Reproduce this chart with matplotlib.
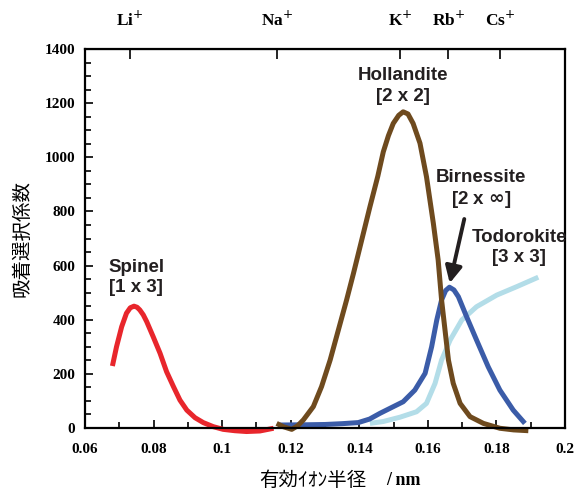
import numpy as np
import matplotlib
matplotlib.use('Agg')
import matplotlib.pyplot as plt
from matplotlib.ticker import MultipleLocator

# ===== data =====
spinel_x = [0.0680, 0.0692, 0.0707, 0.0721, 0.0732, 0.0743, 0.0752, 0.0760, 0.0770, 0.0780,
            0.0799, 0.0819, 0.0838, 0.0858, 0.0877, 0.0897, 0.0921, 0.0945, 0.0974, 0.1003,
            0.1037, 0.1071, 0.1110, 0.1150]
spinel_y = [229, 300, 374, 424, 444, 450, 446, 436, 418, 393,
            337, 276, 208, 153, 103, 66, 38, 20, 5, -5,
            -10, -13, -11, -1]

holl_x = [0.1159, 0.1178, 0.1203, 0.1220, 0.1237, 0.1266, 0.1290, 0.1315, 0.1339, 0.1363,
          0.1383, 0.1407, 0.1431, 0.1454, 0.1470, 0.1485, 0.1499, 0.1515, 0.1528,
          0.1542, 0.1557, 0.1577, 0.1596, 0.1616, 0.1630, 0.1640, 0.1660, 0.1674, 0.1694,
          0.1723, 0.1762, 0.1810, 0.1850, 0.1893]
holl_y = [17, 5, -5, 8, 30, 79, 153, 251, 362, 473,
          571, 694, 817, 930, 1020, 1080, 1125, 1155, 1168,
          1160, 1125, 1052, 928, 756, 621, 473, 251, 165, 91,
          42, 17, -1, -7, -10]

birn_x = [0.1169, 0.1250, 0.1300, 0.1350, 0.1397, 0.1430, 0.1460, 0.1490, 0.1528, 0.1562,
          0.1592, 0.1611, 0.1626, 0.1640, 0.1652, 0.1663, 0.1676, 0.1689, 0.1713, 0.1742,
          0.1776, 0.1810, 0.1849, 0.1883]
birn_y = [11, 12, 13, 16, 20, 33, 54, 73, 97, 140,
          202, 300, 399, 473, 508, 520, 510, 485, 411, 325,
          226, 140, 66, 17]

todo_x = [0.1431, 0.1470, 0.1519, 0.1567, 0.1596, 0.1621, 0.1640, 0.1665, 0.1699, 0.1742,
          0.1801, 0.1859, 0.1922]
todo_y = [17, 24, 40, 60, 91, 165, 251, 325, 399, 448,
          491, 522, 557]

ion_names = ['Li$^{+}$', 'Na$^{+}$', 'K$^{+}$', 'Rb$^{+}$', 'Cs$^{+}$']
ion_radii = [0.073, 0.116, 0.152, 0.166, 0.181]

SERIF = 'Liberation Serif'
SANS = 'Liberation Sans'
CJK = 'Noto Sans CJK JP'
TXT = '#231F20'

fig = plt.figure(figsize=(5.84, 4.94), dpi=100)
ax = fig.add_axes([0.1455, 0.1336, 0.822, 0.7672])

lkw = dict(lw=3.6, solid_joinstyle='round', solid_capstyle='butt', clip_on=False)
ax.plot(todo_x, todo_y, color='#B3DDE8', **lkw)
ax.plot(birn_x, birn_y, color='#3B5CA8', **lkw)
ax.plot(holl_x, holl_y, color='#6E4A1E', **lkw)
ax.plot(spinel_x, spinel_y, color='#E8262C', **lkw)

ax.set_xlim(0.06, 0.2)
ax.set_ylim(0, 1400)
ax.xaxis.set_major_locator(MultipleLocator(0.02))
ax.xaxis.set_minor_locator(MultipleLocator(0.01))
ax.yaxis.set_major_locator(MultipleLocator(200))
ax.yaxis.set_minor_locator(MultipleLocator(50))
ax.tick_params(which='both', direction='in', top=False, right=False, width=1.2)
ax.tick_params(which='major', length=6)
ax.tick_params(which='minor', length=4)
ax.tick_params(axis='x', pad=11)
ax.tick_params(axis='y', pad=7)
for s in ax.spines.values():
    s.set_linewidth(1.6)

xt = [0.06, 0.08, 0.1, 0.12, 0.14, 0.16, 0.18, 0.2]
ax.set_xticks(xt)
ax.set_xticklabels([('%g' % v) for v in xt])
for lab in ax.get_xticklabels() + ax.get_yticklabels():
    lab.set_fontfamily(SERIF)
    lab.set_fontweight('bold')
    lab.set_fontsize(11)

# ion positions on top axis
top = ax.secondary_xaxis('top')
top.set_xticks(ion_radii)
top.set_xticklabels(ion_names)
top.tick_params(direction='in', length=7, width=1.2, pad=14)
for lab in top.get_xticklabels():
    lab.set_fontfamily(SERIF)
    lab.set_fontweight('bold')
    lab.set_fontsize(12.5)

tkw = dict(fontfamily=SANS, fontweight='bold', fontsize=13.5, ha='center', va='center',
           color=TXT, linespacing=1.25)
ax.text(0.0749, 556, 'Spinel\n[1 x 3]', **tkw)
ax.text(0.1527, 1263, 'Hollandite\n[2 x 2]', **tkw)
ax.text(0.1755, 881, 'Birnessite\n[2 x $\\mathbf{\\infty}$]', **tkw)
ax.text(0.1866, 667, 'Todorokite\n[3 x 3]', **tkw)
ax.annotate('', xy=(0.1662, 525), xytext=(0.1708, 782),
            arrowprops=dict(arrowstyle='-|>,head_length=1.0,head_width=0.5', color=TXT, lw=2.8))

ax.set_ylabel('吸着選択係数', fontfamily=CJK, fontsize=14, labelpad=9)
fig.text(0.628, 0.028, '有効ｲｵﾝ半径', fontfamily=CJK, fontsize=14, ha='right', va='center')
fig.text(0.662, 0.028, '/ nm', fontfamily=SERIF, fontweight='bold', fontsize=13, ha='left', va='center')

fig.savefig('out.png', dpi=100)
